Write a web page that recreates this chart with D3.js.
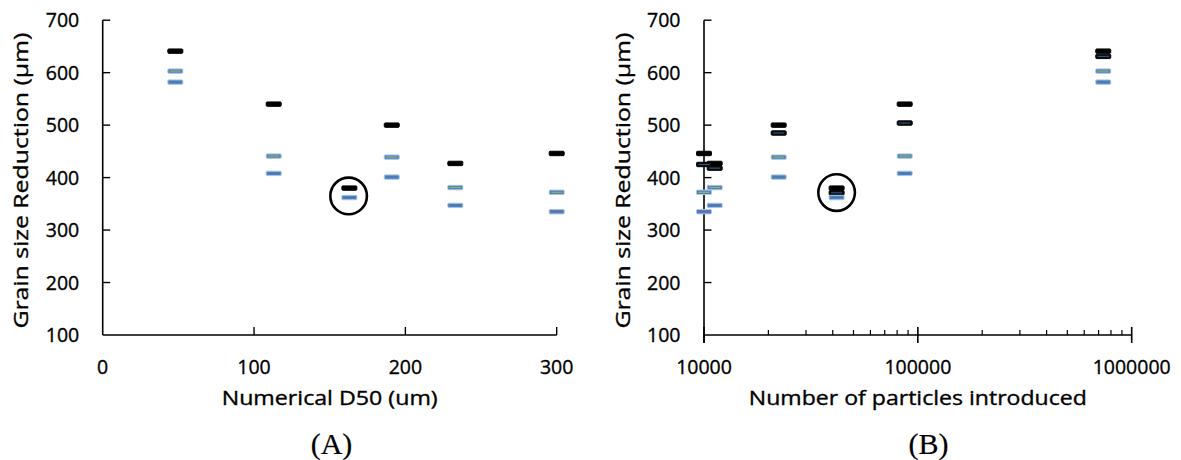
<!DOCTYPE html>
<html>
<head>
<meta charset="utf-8">
<script src="https://cdn.jsdelivr.net/npm/d3@7"></script>
<style>
  html, body { margin: 0; padding: 0; background: #fff; }
  svg { display: block; }
  text { font-family: "Open Sans", "Noto Sans", sans-serif; fill: #000; stroke: #000; stroke-width: 0.35px; }
  text.serif { stroke-width: 0.2px; }
</style>
</head>
<body>
<svg id="chart" width="1181" height="460"></svg>
<script>
// ---------------- DATA ----------------
const yTicks = [100, 200, 300, 400, 500, 600, 700];
const xTicksA = [0, 100, 200, 300];
const xTicksB = [10000, 100000, 1000000];

// Panel A: Numerical D50 (um)
const d50 = [48, 113, 163, 191, 233, 300];
const blackA  = [641, 540, 380, 500, 427, 446];
const greenA  = [603, 441, null, 439, 381, 372];
const blueA   = [582, 408, 362, 401, 347, null];
const purpleA = [null, null, null, null, null, 335];
const circleA = { x: 162.5, y: 365 };

// Panel B: Number of particles introduced
const particles = [10000, 11220, 22350, 41700, 86800, 736000];
const blackB  = [446, 427, 500, 380, 540, 641];
const darkB   = [425, 418, 485, 371, 504, 631];
const greenB  = [372, 381, 439, null, 441, 603];
const blueB   = [null, 347, 401, 362, 408, 582];
const purpleB = [335, null, null, null, null, null];
const circleB = { x: 41700, y: 371.5 };

const labelA = "(A)", labelB = "(B)";
const yTitle = "Grain size Reduction (\u00b5m)";
const xTitleA = "Numerical D50 (um)";
const xTitleB = "Number of particles introduced";

// ---------------- STYLES ----------------
const styles = {
  black:  { fill: "#000000", stroke: "#000000", line: null },
  dark:   { fill: "#0d0d0d", stroke: "#000000", line: "#2e5a8a" },
  green:  { fill: "#4f81bd", stroke: "#a9c4e6", line: "#9bbb59" },
  blue:   { fill: "#4f81bd", stroke: "#a9c4e6", line: "#4a74b0" },
  purple: { fill: "#4f81bd", stroke: "#a9c4e6", line: "#8064a2" }
};

const svg = d3.select("#chart");
const y = d3.scaleLinear().domain([100, 700]).range([335, 20.2]);

function drawPanel(opts) {
  const g = svg.append("g");
  const x = opts.x;
  const [x0, x1] = x.range();
  g.append("line").attr("x1", x0).attr("x2", x0).attr("y1", y(700)).attr("y2", opts.yAxisBottom)
    .attr("stroke", "#000").attr("stroke-width", 1.6);
  yTicks.filter(t => t > 100).forEach(t => {
    g.append("line").attr("x1", x0).attr("x2", x0 + 7.5).attr("y1", y(t)).attr("y2", y(t))
      .attr("stroke", "#000").attr("stroke-width", 1.4);
  });
  yTicks.forEach(t => {
    g.append("text").attr("x", x0 - 23.5).attr("y", y(t)).attr("dy", "0.36em")
      .attr("text-anchor", "end").attr("font-size", 19.5).text(t);
  });
  g.append("line").attr("x1", x0).attr("x2", x1).attr("y1", y(100)).attr("y2", y(100))
    .attr("stroke", "#000").attr("stroke-width", 1.6);
  opts.drawXTicks(g, x);
  opts.xTickLabels.forEach(t => {
    g.append("text").attr("x", x(t)).attr("y", 373.5).attr("text-anchor", "middle")
      .attr("font-size", 19.5).text(opts.fmt(t));
  });
  g.append("text").attr("x", (x0 + x1) / 2).attr("y", 405).attr("text-anchor", "middle")
    .attr("font-size", 19.5).attr("textLength", opts.xTitleLen).attr("lengthAdjust", "spacingAndGlyphs")
    .text(opts.xTitle);
  g.append("text").attr("transform", `translate(${x0 - 74.5},${(y(700) + y(100)) / 2 + 3}) rotate(-90)`)
    .attr("text-anchor", "middle").attr("font-size", 19.5)
    .attr("textLength", 296).attr("lengthAdjust", "spacingAndGlyphs").text(yTitle);
  g.append("text").attr("class", "serif").attr("x", opts.labelX).attr("y", 454).attr("text-anchor", "middle")
    .style("font-family", "'Liberation Serif', 'Times New Roman', serif").attr("font-size", 30)
    .text(opts.label);
  opts.series.forEach(s => {
    const st = styles[s.style];
    s.values.forEach((v, i) => {
      if (v == null) return;
      const cx = x(opts.xs[i]), cy = y(v);
      g.append("rect").attr("x", cx - 7.5).attr("y", cy - 2.2).attr("width", 15).attr("height", 4.4)
        .attr("rx", 1).attr("fill", st.fill).attr("stroke", st.stroke).attr("stroke-width", 1);
      if (st.line) {
        g.append("line").attr("x1", cx - 5.5).attr("x2", cx + 5.5).attr("y1", cy).attr("y2", cy)
          .attr("stroke", st.line).attr("stroke-width", 1);
      }
    });
  });
  g.append("circle").attr("cx", x(opts.circle.x)).attr("cy", y(opts.circle.y)).attr("r", 18.3)
    .attr("fill", "none").attr("stroke", "#000").attr("stroke-width", 2.6);
}

const xA = d3.scaleLinear().domain([0, 300]).range([102.7, 556.7]);
drawPanel({
  x: xA, xs: d50, yAxisBottom: y(100),
  xTickLabels: xTicksA, fmt: d => d, xTitle: xTitleA, xTitleLen: 216,
  label: labelA, labelX: 331.5, circle: circleA,
  drawXTicks: (g, x) => {
    xTicksA.filter(t => t > 0).forEach(t => {
      g.append("line").attr("x1", x(t)).attr("x2", x(t)).attr("y1", y(100) - 8).attr("y2", y(100))
        .attr("stroke", "#000").attr("stroke-width", 1.4);
    });
  },
  series: [
    { style: "black", values: blackA },
    { style: "green", values: greenA },
    { style: "blue", values: blueA },
    { style: "purple", values: purpleA }
  ]
});

const xB = d3.scaleLog().domain([10000, 1000000]).range([704, 1131.7]);
const minorB = [];
[10000, 100000].forEach(dec => { for (let k = 2; k <= 9; k++) minorB.push(dec * k); });
drawPanel({
  x: xB, xs: particles, yAxisBottom: y(100) + 8,
  xTickLabels: xTicksB, fmt: d => String(d), xTitle: xTitleB, xTitleLen: 338,
  label: labelB, labelX: 928.5, circle: circleB,
  drawXTicks: (g, x) => {
    xTicksB.forEach(t => {
      g.append("line").attr("x1", x(t)).attr("x2", x(t)).attr("y1", y(100) - 8).attr("y2", y(100) + 8)
        .attr("stroke", "#000").attr("stroke-width", 1.6);
    });
    minorB.forEach(t => {
      g.append("line").attr("x1", x(t)).attr("x2", x(t)).attr("y1", y(100) - 5).attr("y2", y(100))
        .attr("stroke", "#000").attr("stroke-width", 1.2);
    });
  },
  series: [
    { style: "black", values: blackB },
    { style: "dark", values: darkB },
    { style: "green", values: greenB },
    { style: "blue", values: blueB },
    { style: "purple", values: purpleB }
  ]
});
</script>
</body>
</html>
